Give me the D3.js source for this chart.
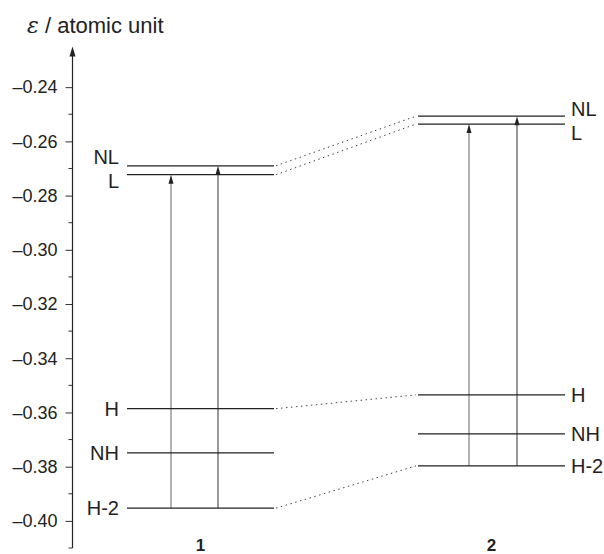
<!DOCTYPE html>
<html>
<head>
<meta charset="utf-8">
<script src="https://cdn.jsdelivr.net/npm/d3@7"></script>
<style>
  body { margin: 0; background: #fff; }
  svg { display: block; font-family: "Liberation Sans", Arial, sans-serif; }
</style>
</head>
<body>
<svg id="chart" width="604" height="554"></svg>
<script>
// molecules and orbital energies (atomic units)
const molecules = ["1", "2"];
const levelNames = ["H-2", "NH", "H", "L", "NL"];
const energies1 = [-0.3953, -0.3749, -0.3586, -0.2723, -0.2690];
const energies2 = [-0.3797, -0.3679, -0.3535, -0.2536, -0.2507];
// which levels are joined by dotted lines between 1 and 2
const linked = ["H-2", "H", "L", "NL"];
// excitations drawn as arrows (from -> to)
const transFrom = ["H-2", "H-2"];
const transTo = ["L", "NL"];
const majorTicks = [-0.40, -0.38, -0.36, -0.34, -0.32, -0.30, -0.28, -0.26, -0.24];
const minorTicks = [-0.41, -0.39, -0.37, -0.35, -0.33, -0.31, -0.29, -0.27, -0.25];

const energies = { "1": energies1, "2": energies2 };

const svg = d3.select("#chart");
const axisX = 72.5;
const halfW = 73.5;

const y = d3.scaleLinear().domain([-0.41, -0.225]).range([548, 46.5]);
const x = d3.scalePoint().domain(molecules).range([200.5, 491.5]);

// label vertical nudges so NL / L don't collide (layout only)
const labelDy = { "1": { NL: -9, L: 6 }, "2": { NL: -7, L: 9 } };
// arrow offsets from molecule centre (layout only)
const arrowDx = { "1": [-29.5, 17.5], "2": [-22.5, 25.5] };

const fmt = v => d3.format(".2f")(v).replace("-", "\u2013").replace("\u2212", "\u2013");

// y axis
const axis = d3.axisLeft(y).tickValues(majorTicks).tickSize(7).tickPadding(8).tickFormat(fmt);
const gAxis = svg.append("g").attr("transform", `translate(${axisX},0)`).call(axis);
gAxis.select(".domain").remove();
gAxis.attr("font-size", 18).attr("font-family", "Liberation Sans, Arial, sans-serif");
gAxis.selectAll(".tick line").attr("stroke", "#333");
gAxis.selectAll(".tick text").attr("fill", "#222");

// minor ticks
gAxis.selectAll(".minor").data(minorTicks).join("line")
  .attr("class", "minor")
  .attr("x1", -4).attr("x2", 0)
  .attr("y1", d => y(d)).attr("y2", d => y(d))
  .attr("stroke", "#333");

// axis line with arrowhead
svg.append("line")
  .attr("x1", axisX).attr("x2", axisX)
  .attr("y1", y(-0.41)).attr("y2", y(-0.225) + 6)
  .attr("stroke", "#222").attr("stroke-width", 1.2);
svg.append("path")
  .attr("d", `M${axisX},${y(-0.225)} L${axisX - 3},${y(-0.225) + 10} L${axisX + 3},${y(-0.225) + 10} Z`)
  .attr("fill", "#222");

// axis title
const title = svg.append("text").attr("x", 27).attr("y", 33).attr("font-size", 22).attr("fill", "#222");
title.append("tspan").attr("font-family", "DejaVu Serif, serif").attr("font-style", "italic").text("\u03b5");
title.append("tspan").text(" / atomic unit");

// dotted connectors
linked.forEach(name => {
  const i = levelNames.indexOf(name);
  svg.append("line")
    .attr("x1", x("1") + halfW + 2).attr("y1", y(energies["1"][i]))
    .attr("x2", x("2") - halfW - 2).attr("y2", y(energies["2"][i]))
    .attr("stroke", "#444").attr("stroke-width", 1)
    .attr("stroke-dasharray", "1.5,3.5");
});

molecules.forEach(m => {
  const g = svg.append("g");
  // arrows
  transFrom.forEach((f, k) => {
    const ax = x(m) + arrowDx[m][k];
    const y0 = y(energies[m][levelNames.indexOf(f)]);
    const y1 = y(energies[m][levelNames.indexOf(transTo[k])]);
    g.append("line")
      .attr("x1", ax).attr("x2", ax).attr("y1", y0).attr("y2", y1 + 8)
      .attr("stroke", k === 0 ? "#666" : "#333").attr("stroke-width", 1);
    g.append("path")
      .attr("d", `M${ax},${y1} L${ax - 2.5},${y1 + 9} L${ax + 2.5},${y1 + 9} Z`)
      .attr("fill", "#222");
  });
  // levels
  g.selectAll(".level").data(levelNames).join("line")
    .attr("x1", x(m) - halfW).attr("x2", x(m) + halfW)
    .attr("y1", (d, i) => y(energies[m][i])).attr("y2", (d, i) => y(energies[m][i]))
    .attr("stroke", "#222").attr("stroke-width", 1.3);
  // labels
  g.selectAll(".lab").data(levelNames).join("text")
    .attr("x", m === "1" ? x(m) - halfW - 8 : x(m) + halfW + 6)
    .attr("y", (d, i) => y(energies[m][i]) + ((labelDy[m][d]) || 0))
    .attr("dy", "0.36em")
    .attr("text-anchor", m === "1" ? "end" : "start")
    .attr("font-size", 20).attr("fill", "#222")
    .text(d => d);
  // molecule number
  svg.append("text")
    .attr("x", x(m)).attr("y", 551)
    .attr("text-anchor", "middle")
    .attr("font-size", 17).attr("font-weight", "bold").attr("fill", "#222")
    .text(m);
});
</script>
</body>
</html>
